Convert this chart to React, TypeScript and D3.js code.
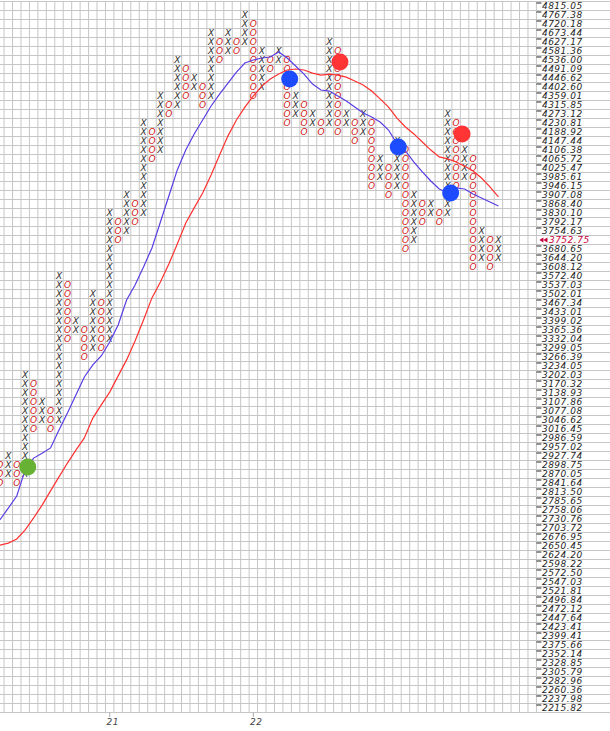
import React from 'react';
import * as d3 from 'd3';

// Box levels (1% boxes), top to bottom — also the price-axis tick labels
const boxLevels = [
  4815.05, 4767.38, 4720.18, 4673.44, 4627.17, 4581.36, 4536.0, 4491.09, 4446.62, 4402.6,
  4359.01, 4315.85, 4273.12, 4230.81, 4188.92, 4147.44, 4106.38, 4065.72, 4025.47, 3985.61,
  3946.15, 3907.08, 3868.4, 3830.1, 3792.17, 3754.63, 3717.46, 3680.65, 3644.2, 3608.12,
  3572.4, 3537.03, 3502.01, 3467.34, 3433.01, 3399.02, 3365.36, 3332.04, 3299.05, 3266.39,
  3234.05, 3202.03, 3170.32, 3138.93, 3107.86, 3077.08, 3046.62, 3016.45, 2986.59, 2957.02,
  2927.74, 2898.75, 2870.05, 2841.64, 2813.5, 2785.65, 2758.06, 2730.76, 2703.72, 2676.95,
  2650.45, 2624.2, 2598.22, 2572.5, 2547.03, 2521.81, 2496.84, 2472.12, 2447.64, 2423.41,
  2399.41, 2375.66, 2352.14, 2328.85, 2305.79, 2282.96, 2260.36, 2237.98, 2215.82,
];

// Point & figure columns (first column index is -1, partly cut at the left edge)
const firstColumn = -1;
const columnTypes = [
  'O','X','O','X','O','X','O','X','O','X','O','X','O','X','O','X','O','X','O','X',
  'O','X','O','X','O','X','O','X','O','X','O','X','O','X','O','X','O','X','O','X',
  'O','X','O','X','O','X','O','X','O','X','O','X','O','X','O','X','O','X','O','X',
];
const columnHigh = [
  2898.75, 2927.74, 2898.75, 3202.03, 3170.32, 3107.86, 3077.08, 3572.4, 3537.03, 3399.02,
  3365.36, 3502.01, 3467.34, 3830.1, 3792.17, 3907.08, 3868.4, 4230.81, 4188.92, 4359.01,
  4315.85, 4536.0, 4491.09, 4446.62, 4402.6, 4673.44, 4627.17, 4673.44, 4627.17, 4767.38,
  4720.18, 4581.36, 4536.0, 4581.36, 4536.0, 4359.01, 4315.85, 4273.12, 4230.81, 4627.17,
  4581.36, 4273.12, 4230.81, 4273.12, 4230.81, 4065.72, 4025.47, 4147.44, 4106.38, 3907.08,
  3868.4, 3868.4, 3830.1, 4273.12, 4230.81, 4106.38, 4065.72, 3754.63, 3717.46, 3717.46,
];
const columnLow = [
  2841.64, 2870.05, 2841.64, 2870.05, 3016.45, 3046.62, 3016.45, 3046.62, 3332.04, 3365.36,
  3266.39, 3299.05, 3299.05, 3332.04, 3717.46, 3754.63, 3792.17, 3830.1, 4065.72, 4106.38,
  4273.12, 4315.85, 4359.01, 4402.6, 4315.85, 4359.01, 4536.0, 4581.36, 4581.36, 4627.17,
  4359.01, 4402.6, 4491.09, 4536.0, 4230.81, 4273.12, 4188.92, 4230.81, 4188.92, 4230.81,
  4188.92, 4230.81, 4147.44, 4188.92, 3946.15, 3985.61, 3907.08, 3946.15, 3680.65, 3717.46,
  3792.17, 3830.1, 3792.17, 3830.1, 3946.15, 3985.61, 3608.12, 3644.2, 3608.12, 3644.2,
];

// Moving averages, one value per column (from column -1)
const fastAverage = [
  2728, 2764, 2801, 2883, 2921, 2937, 2954, 3013, 3070, 3132,
  3195, 3238, 3270, 3321, 3384, 3479, 3537, 3608, 3685, 3792,
  3903, 4017, 4106, 4180, 4245, 4311, 4368, 4422, 4476, 4521,
  4536, 4546, 4551, 4576, 4546, 4506, 4466, 4417, 4388, 4383,
  4359, 4335, 4306, 4278, 4259, 4235, 4198, 4134, 4102, 4052,
  4008, 3968, 3933, 3916, 3938, 3933, 3911, 3894, 3877, 3860,
];
const slowAverage = [
  2653, 2659, 2671, 2698, 2734, 2773, 2817, 2861, 2905, 2947,
  2987, 3053, 3098, 3142, 3199, 3256, 3325, 3403, 3487, 3549,
  3620, 3701, 3788, 3852, 3916, 3994, 4084, 4171, 4245, 4306,
  4359, 4407, 4442, 4466, 4486, 4491, 4486, 4471, 4461, 4466,
  4461, 4451, 4432, 4412, 4383, 4345, 4306, 4254, 4212, 4180,
  4143, 4106, 4075, 4066, 4052, 4034, 4012, 3981, 3942, 3899,
];

// Signal dots
const signalColumns = [2.3, 33.3, 39.25, 46.15, 53.7, 52.35];
const signalPrices = [2892.4, 4441.7, 4526.1, 4119.8, 4179.7, 3915.5];
const signalKinds = ['green', 'blue', 'red', 'blue', 'red', 'blue'];

const currentPrice = 3752.75;
const yearTickColumns = [12, 29];
const yearTickLabels = ['21', '22'];

const FONT = '"DejaVu Sans", Verdana, sans-serif';
const W = 610;
const H = 731;
const signalColor: Record<string, string> = { green: '#67b135', blue: '#1d4cff', red: '#ff3535' };

export default function App() {
  const x = d3.scaleLinear().domain([0, 58]).range([8.3, 498.4]);
  const colW = x(1) - x(0);
  const nRows = boxLevels.length;
  const y = d3.scaleLog().domain([boxLevels[0], boxLevels[nRows - 1]]).range([6, 708]);
  const rowH = (y(boxLevels[nRows - 1]) - y(boxLevels[0])) / (nRows - 1);
  const gridTop = y(boxLevels[0]) - rowH / 2;
  const gridBottom = y(boxLevels[nRows - 1]) + rowH / 2;
  const gridRight = x(63) - colW / 2;

  const hLines = boxLevels.map((v) => y(v) - rowH / 2).concat([gridBottom]);
  const vLines = d3.range(0, 64).map((c) => x(c) - colW / 2);

  const boxes: { c: number; v: number; t: string }[] = [];
  columnTypes.forEach((t, i) => {
    const hi = columnHigh[i];
    const lo = columnLow[i];
    boxLevels.forEach((v) => {
      if (v <= hi + 0.001 && v >= lo - 0.001) boxes.push({ c: firstColumn + i, v, t });
    });
  });

  const line = d3
    .line<number>()
    .x((_, i) => x(firstColumn + i))
    .y((d) => y(d));

  const curBox = boxLevels.find((v) => v <= currentPrice) as number;
  const curY = y(curBox);
  const labelX = gridRight + 5.5;

  return (
    <svg width={W} height={H} style={{ display: 'block', background: '#fff' }}>
      <style>{`body{margin:0}`}</style>
      <g stroke="#c6c6c6" strokeWidth={1}>
        {hLines.map((yy, i) => (
          <line key={'h' + i} x1={0} x2={W} y1={yy} y2={yy} />
        ))}
        {vLines.map((xx, i) => (
          <line key={'v' + i} x1={xx} x2={xx} y1={gridTop} y2={gridBottom} />
        ))}
      </g>

      <g fontFamily={FONT} fontStyle="italic" fontSize={9} textAnchor="middle">
        {boxes.map((b, i) => (
          <text key={i} x={x(b.c)} y={y(b.v) + 3.3} fill={b.t === 'X' ? '#2e2e2e' : '#d11a1a'}>
            {b.t}
          </text>
        ))}
      </g>

      <path d={line(slowAverage) || ''} fill="none" stroke="#ff3030" strokeWidth={1.2} />
      <path d={line(fastAverage) || ''} fill="none" stroke="#5a3de4" strokeWidth={1.2} />

      {signalColumns.map((c, i) => (
        <circle key={'s' + i} cx={x(c)} cy={y(signalPrices[i])} r={8.5} fill={signalColor[signalKinds[i]]} />
      ))}

      {/* price axis */}
      <g fontFamily={FONT} fontStyle="italic" fontSize={9} fill="#1e1e1e" letterSpacing={0.5}>
        {boxLevels.map((v, i) =>
          v === curBox ? null : (
            <g key={'l' + i}>
              <line x1={gridRight} x2={gridRight + 5} y1={y(v) - 3} y2={y(v) - 3} stroke="#222" strokeWidth={1} />
              <text x={labelX} y={y(v) + 3.3}>
                {v.toFixed(2)}
              </text>
            </g>
          )
        )}
      </g>
      <g fill="#c8003c">
        <path d={`M${gridRight + 3},${curY} l4,-2.6 v5.2 z`} />
        <path d={`M${gridRight + 7},${curY} l4,-2.6 v5.2 z`} />
        <text x={gridRight + 12.5} y={curY + 3.3} fontFamily={FONT} fontStyle="italic" fontSize={9} letterSpacing={0.5}>
          {currentPrice.toFixed(2)}
        </text>
      </g>

      {/* time axis */}
      <g fontFamily={FONT} fontStyle="italic" fontSize={9} fill="#444" letterSpacing={0.5}>
        {yearTickColumns.map((c, i) => (
          <g key={'t' + i}>
            <line x1={x(c)} x2={x(c)} y1={gridBottom} y2={gridBottom + 4.5} stroke="#aaa" strokeWidth={1} />
            <text x={x(c) + 3} y={gridBottom + 12.5} textAnchor="middle">
              {yearTickLabels[i]}
            </text>
          </g>
        ))}
      </g>
    </svg>
  );
}
